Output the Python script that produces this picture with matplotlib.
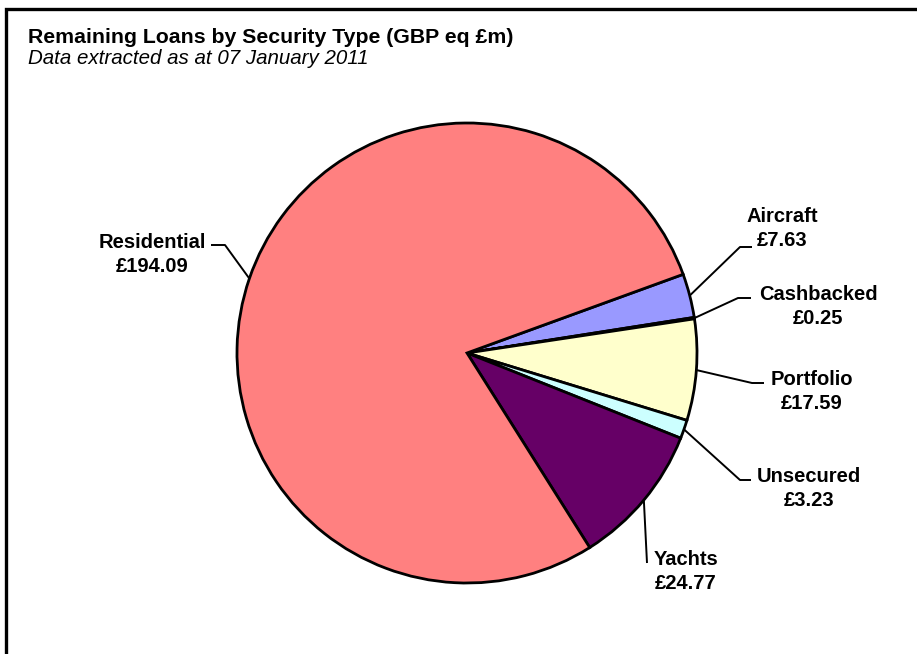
import numpy as np
import matplotlib
matplotlib.use("Agg")
import matplotlib.pyplot as plt

# ---- data ----
categories = ["Aircraft", "Cashbacked", "Portfolio", "Unsecured", "Yachts", "Residential"]
values = [7.63, 0.25, 17.59, 3.23, 24.77, 194.09]
colors = ["#9999FF", "#993366", "#FFFFCC", "#CCFFFF", "#660066", "#FF8080"]
title = "Remaining Loans by Security Type (GBP eq £m)"
subtitle = "Data extracted as at 07 January 2011"

# ---- layout (pixel coordinates, y measured from top) ----
W, H = 917, 654
cx, cy, R = 467, 353, 230
# label: centre x, first-line baseline, elbow x, elbow y, end x
label_layout = {
    "Residential": (152, 248, 225, 245, 211),
    "Aircraft":    (782, 222, 740, 247, 752),
    "Cashbacked":  (818, 300, 738, 298, 751),
    "Portfolio":   (812, 385, 752, 383, 764),
    "Unsecured":   (809, 482, 740, 480, 751),
    "Yachts":      (686, 565, 647, 563, 647),
}

plt.rcParams['font.family'] = ['Liberation Sans', 'DejaVu Sans']
fig = plt.figure(figsize=(W / 100, H / 100), dpi=100)
ax = fig.add_axes([0, 0, 1, 1])

def Y(y):
    return H - y

wedges, _ = ax.pie(values, colors=colors, startangle=20, counterclock=False,
                   center=(cx, Y(cy)), radius=R,
                   wedgeprops=dict(edgecolor="black", linewidth=2.0))
ax.set_xlim(0, W)
ax.set_ylim(0, H)
ax.set_aspect("equal")
ax.axis("off")

fs = 14.5
for w, name, v in zip(wedges, categories, values):
    mid = np.deg2rad((w.theta1 + w.theta2) / 2)
    sx = cx + R * np.cos(mid)
    sy = Y(cy) + R * np.sin(mid)
    tx, tb, ex, ey, endx = label_layout[name]
    ax.plot([sx, ex, endx], [sy, Y(ey), Y(ey)], color="black", lw=1.4,
            solid_capstyle="butt", zorder=5)
    ax.text(tx, Y(tb), name, ha="center", va="baseline", fontsize=fs,
            fontweight="bold")
    ax.text(tx, Y(tb + 24), f"£{v:.2f}", ha="center", va="baseline",
            fontsize=fs, fontweight="bold")

ax.text(28, Y(43), title, ha="left", va="baseline", fontsize=15.3,
        fontweight="bold")
ax.text(28, Y(64), subtitle, ha="left", va="baseline", fontsize=14.8,
        fontstyle="italic")

# chart frame (left and top edges visible)
ax.plot([5.5, 5.5, W + 5], [-5, Y(9), Y(9)], color="black", lw=2.4,
        solid_joinstyle="miter", clip_on=False)

fig.savefig("out.png", dpi=100, facecolor="white")
